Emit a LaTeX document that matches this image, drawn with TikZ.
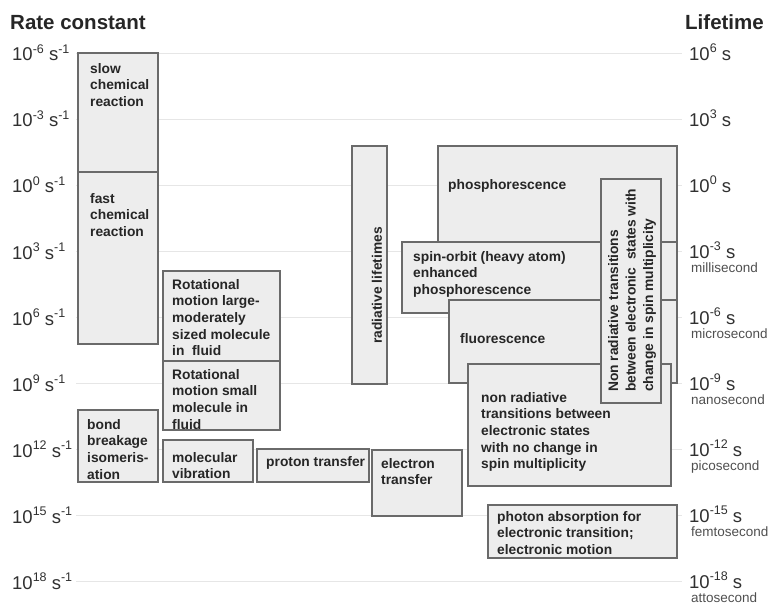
\documentclass[tikz,border=0pt]{standalone}
\usepackage{fontspec}
\setmainfont{Liberation Sans}
\usetikzlibrary{fit}
\definecolor{boxfill}{HTML}{EDEDED}
\definecolor{boxline}{HTML}{6A6A6A}
\definecolor{gridc}{HTML}{E6E6E6}
\definecolor{txt}{HTML}{262626}
\definecolor{axtxt}{HTML}{303030}
\newcommand\upx[1]{\raisebox{0.42em}{\fontsize{12.5}{12.5}\selectfont #1}}
\tikzset{
  box/.style={draw=boxline, fill=boxfill, line width=1.1pt, inner sep=0pt, outer sep=0pt},
  lab/.style={font=\fontsize{13.8}{16.6}\selectfont\bfseries, text=txt, inner sep=0pt, align=left, anchor=north west},
  gridline/.style={draw=gridc, line width=1pt},
  axl/.style={font=\fontsize{18.5}{20}\selectfont, text=axtxt, inner sep=0pt, anchor=base west},
  subl/.style={font=\fontsize{13.5}{15}\selectfont, text=axtxt!85, inner sep=0pt, anchor=base west},
  ttl/.style={font=\fontsize{20.5}{22}\selectfont\bfseries, text=txt, inner sep=0pt, anchor=base west}
}
\begin{document}
\begin{tikzpicture}[x=1pt,y=-1pt]
\useasboundingbox (0,0) rectangle (771,604);
% titles
\node[ttl] (rc) at (10,30) {Rate constant};
\node[ttl] (lt) at (685,29.5) {Lifetime};
% grid lines
\foreach \g in {53.5,119.5,185.5,251.5,317.5,383.5,449.5,515.5,581.5}
  \draw[gridline] (76,\g) -- (682,\g);
% left axis labels
\node[axl] (l1) at (12,61) {10\upx{-6} s\upx{-1}};
\node[axl] (l2) at (12,127) {10\upx{-3} s\upx{-1}};
\node[axl] (l3) at (12,193) {10\upx{0} s\upx{-1}};
\node[axl] (l4) at (12,259) {10\upx{3} s\upx{-1}};
\node[axl] (l5) at (12,325) {10\upx{6} s\upx{-1}};
\node[axl] (l6) at (12,391) {10\upx{9} s\upx{-1}};
\node[axl] (l7) at (12,457) {10\upx{12} s\upx{-1}};
\node[axl] (l8) at (12,523) {10\upx{15} s\upx{-1}};
\node[axl] (l9) at (12,589) {10\upx{18} s\upx{-1}};
% right axis labels
\node[axl] (r1) at (689,60.5) {10\upx{6} s};
\node[axl] (r2) at (689,126.5) {10\upx{3} s};
\node[axl] (r3) at (689,192.5) {10\upx{0} s};
\node[axl] (r4) at (689,258.5) {10\upx{-3} s};
\node[axl] (r5) at (689,324.5) {10\upx{-6} s};
\node[axl] (r6) at (689,390.5) {10\upx{-9} s};
\node[axl] (r7) at (689,456.5) {10\upx{-12} s};
\node[axl] (r8) at (689,522.5) {10\upx{-15} s};
\node[axl] (r9) at (689,588.5) {10\upx{-18} s};
\node[subl] (s4) at (691,272.5) {millisecond};
\node[subl] (s5) at (691,338.5) {microsecond};
\node[subl] (s6) at (691,404.5) {nanosecond};
\node[subl] (s7) at (691,470.5) {picosecond};
\node[subl] (s8) at (691,536.5) {femtosecond};
\node[subl] (s9) at (691,602) {attosecond};
% boxes
\node[box, fit={(78,53)(158,172)}] (slow) {};
\node[lab] (slowt) at (90,63) {slow\\chemical\\reaction};
\node[box, fit={(78,172)(158,344)}] (fast) {};
\node[lab] (fastt) at (90,193) {fast\\chemical\\reaction};
\node[box, fit={(163,271)(280,361)}] (rotl) {};
\node[lab] (rotlt) at (172,279) {Rotational\\motion large-\\moderately\\sized molecule\\in\ \ fluid};
\node[box, fit={(163,361)(280,430)}] (rots) {};
\node[lab] (rotst) at (172,369) {Rotational\\motion small\\molecule in\\fluid};
\node[box, fit={(78,410)(158,482)}] (bond) {};
\node[lab] (bondt) at (87,419) {bond\\breakage\\isomeris-\\ation};
\node[box, fit={(163,440)(253,482)}] (vib) {};
\node[lab] (vibt) at (172,452) {molecular\\vibration};
\node[box, fit={(257,449)(369,482)}] (prot) {};
\node[lab] (prott) at (266,456) {proton transfer};
\node[box, fit={(372,450)(462,516)}] (elec) {};
\node[lab] (elect) at (381,458) {electron\\transfer};
\node[box, fit={(352,146)(387,384)}] (rad) {};
\node[lab, anchor=center, rotate=90] (radt) at (377,285.5) {radiative lifetimes};
\node[box, fit={(438,146)(677,280)}] (phos) {};
\node[lab] (phost) at (448,179) {phosphorescence};
\node[box, fit={(402,242)(677,313)}] (spin) {};
\node[lab] (spint) at (413,251) {spin-orbit (heavy atom)\\enhanced\\phosphorescence};
\node[box, fit={(449,300)(677,383)}] (fluo) {};
\node[lab] (fluot) at (460,333) {fluorescence};
\node[box, fit={(468,364)(671,486)}] (nrno) {};
\node[lab] (nrnot) at (481,392) {non radiative\\transitions between\\electronic states\\with no change in\\spin multiplicity};
\node[box, fit={(601,179)(661,403)}] (nrv) {};
\node[lab, rotate=90, font=\fontsize{13.8}{17.5}\selectfont\bfseries] (nrvt) at (608,392) {Non radiative transitions\\between electronic\ \ states with\\change in spin multiplicity};
\node[box, fit={(488,505)(677,558)}] (phot) {};
\node[lab] (phott) at (497,511) {photon absorption for\\electronic transition;\\electronic motion};
\end{tikzpicture}
\end{document}
